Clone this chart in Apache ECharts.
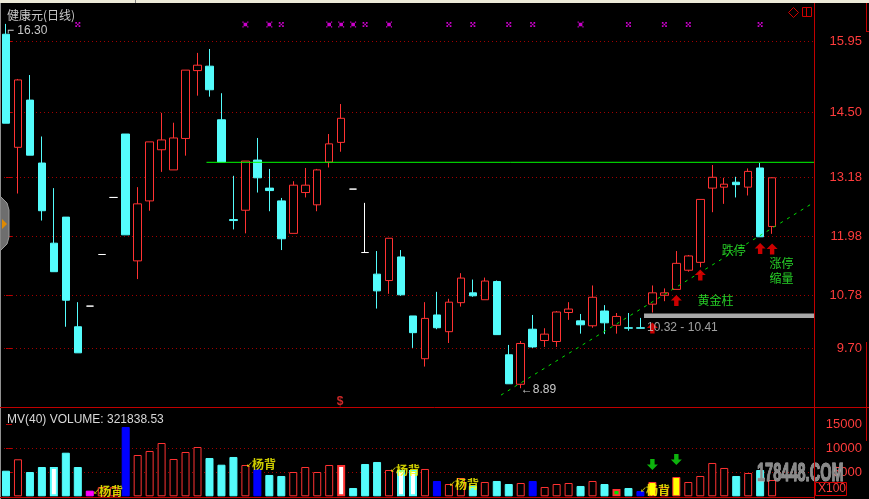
<!DOCTYPE html>
<html><head><meta charset="utf-8">
<script src="https://cdn.jsdelivr.net/npm/echarts@6/dist/echarts.min.js"></script>
<style>html,body{margin:0;padding:0;background:#000;overflow:hidden}#c{width:869px;height:499px}</style>
</head><body><div id="c"></div>
<script>
// ---------- data ----------
const slots = Array.from({length: 68}, (_, i) => String(i + 1)); // 65 trading days + 3 empty slots
const opens  = [16.09,13.79,14.75,13.47,11.84,12.37,10.14,10.56,11.61,12.77,
                14.06,11.48,12.70,13.74,13.33,13.97,15.35,15.44,14.35,12.32,
                12.51,13.53,12.96,12.70,12.04,12.87,12.62,13.49,13.89,12.94,
                11.65,11.21,11.08,11.56,10.36,9.49,10.38,10.04,10.63,10.83,
                10.69,11.06,9.57,8.97,10.09,9.86,9.84,10.43,10.26,10.16,
                10.46,10.17,10.12,10.12,10.60,10.78,10.90,11.29,11.45,12.96,
                12.98,13.08,12.98,13.37,12.18];
const closes = [14.28,15.16,13.63,12.50,11.26,10.68,9.61,10.56,11.61,12.77,
                12.01,12.64,13.90,13.94,13.98,15.36,15.46,14.96,13.49,12.30,
                13.51,13.17,12.91,11.93,13.02,13.02,13.33,13.86,14.38,12.94,
                11.65,10.87,11.94,10.79,10.02,10.31,10.12,10.64,11.13,10.77,
                11.07,9.98,8.98,9.80,9.73,9.99,10.44,10.50,10.18,10.74,
                10.22,10.35,10.11,10.11,10.83,10.83,11.43,11.58,12.73,13.18,
                13.04,13.03,13.30,11.97,13.17];
const lows   = [14.28,12.85,13.63,12.30,11.26,10.14,9.61,10.56,11.61,12.77,
                12.01,11.11,12.50,13.29,13.33,13.62,14.84,14.82,13.49,12.12,
                12.04,12.87,12.49,11.70,12.04,12.77,12.49,13.38,13.70,12.94,
                11.65,10.51,10.81,10.77,9.71,9.33,10.09,9.81,10.55,10.75,
                10.69,9.98,8.98,8.89,9.71,9.73,9.73,10.28,10.00,10.12,
                9.99,10.00,10.06,10.10,10.43,10.66,10.90,11.26,11.35,12.47,
                12.64,12.77,12.81,11.97,12.03];
const highs  = [16.30,15.18,15.26,14.01,12.96,12.37,10.64,10.56,11.61,12.77,
                14.06,12.98,13.90,14.49,14.29,15.36,15.71,15.79,14.89,13.21,
                13.51,13.98,13.35,12.76,13.10,13.37,13.35,14.06,14.67,12.94,
                12.66,11.68,11.94,11.70,10.36,10.64,10.85,10.71,11.23,11.10,
                11.14,11.08,9.77,9.85,10.38,10.11,10.46,10.64,10.40,10.98,
                10.58,10.42,10.42,10.32,10.98,10.92,11.68,11.60,12.73,13.43,
                13.17,13.19,13.36,13.47,13.18];
// volume, unit x100 shares
const volumes = [5330,7710,5060,6100,6100,9080,6100,1170,1900,1900,
                 14440,8600,9440,11100,7770,9230,10270,7980,6580,8190,
                 6520,5625,4440,4230,5060,6100,5060,6520,6520,1730,
                 6730,7150,5480,5480,5480,5690,3190,2560,3810,2200,
                 2980,3190,2560,2770,3190,1940,2560,2770,2150,3190,
                 2560,1520,1730,1100,2980,1940,4020,2980,4230,6940,
                 5900,4230,4850,5480,3400];
// volume bar class: u=up, d=down, b=blue signal, dw/uw=white core, m=magenta, ug=green core, uy=yellow core
const volClass = ['d','u','d','d','dw','d','d','m','u','u',
                  'b','u','u','u','u','u','u','d','d','d',
                  'u','b','d','d','u','u','u','u','uw','d',
                  'd','d','u','dw','dw','u','b','u','u','d',
                  'u','d','d','u','b','u','u','u','d','u',
                  'd','ug','d','b','uy','u','uy','u','u','u',
                  'u','d','u','d','u'];
const priceTicks = [15.95, 14.50, 13.18, 11.98, 10.78, 9.70];
const volTicks = [5000, 10000, 15000];
const volGrid = [5000, 10000];
const highMark = {idx: 0, price: 16.30, text: '16.30'};
const lowMark = {idx: 43, price: 8.89, text: '8.89'};
const resistance = {from: 16.75, to: 67.5, price: 13.485};
const trendFrom = [41.35, 8.75], trendTo = [67.5, 12.67];
const goldBand = {from: 53.3, to: 67.5, low: 10.32, high: 10.41};
const signalLevel = 16.287;
const bigX = [20, 22, 27, 28, 29, 32, 48];
const smallX = [6, 23, 30, 37, 39, 42, 44, 52, 55, 57, 63];
const upArrowIdx = [54, 56, 58, 63, 64];
const upArrowPrice = [10.115, 10.674, 11.193, 11.732, 11.722];
const downArrowIdx = [54, 56];
const downArrowVol = [6625, 7670];
const notes = ['跌停', '涨停', '缩量', '黄金柱', '10.32 - 10.41', '$'];
const noteX = [60.8, 64.79, 64.79, 59.27, 53.55, 27.9];
const noteY = [11.70, 11.42, 11.13, 10.685, 10.12, 8.62];
const volNotes = ['杨背', '杨背', '杨背', '杨背', '杨背'];
const volNoteX = [7.27, 20.05, 32.08, 37.01, 52.97];
const volNoteY = [1000, 6625, 5480, 2560, 1310];

// ---------- styling ----------
const RED = '#ff3232', CYAN = '#54fcfc', AXIS = '#c00000', DOT = '#a00000';
const NUMF = 'Liberation Sans', CJK = 'Noto Sans CJK SC';
const UP_ARROW = 'path://M5,0L10,5L7,5L7,10L3,10L3,5L0,5Z';
const DOWN_ARROW = 'path://M3,0L7,0L7,5L10,5L5,10L0,5L3,5Z';
const BIG_X = 'path://M0,0h1v1h-1zM4,0h1v1h-1zM1,1h3v3h-3zM0,4h1v1h-1zM4,4h1v1h-1z';
const SMALL_X = 'path://M0,0h1v1h-1zM2,0h1v1h-1zM1,1h1v1h-1zM0,2h1v1h-1zM2,2h1v1h-1z';

const candleData = opens.map((o, i) => {
  const item = {value: [o, closes[i], lows[i], highs[i]]};
  if (o === closes[i]) item.itemStyle = {color: '#fff', color0: '#fff', borderColor: '#fff', borderColor0: '#fff', borderColorDoji: '#fff'};
  return item;
});
const volStyle = {
  u: {color: '#000', borderColor: RED, borderWidth: 1},
  d: {color: CYAN, borderColor: CYAN, borderWidth: 1},
  b: {color: '#0000ff', borderColor: '#0000ff', borderWidth: 1},
  dw: {color: '#fff', borderColor: CYAN, borderWidth: 2},
  uw: {color: '#fff', borderColor: RED, borderWidth: 2},
  m: {color: '#ff00ff', borderColor: '#ff00ff', borderWidth: 1},
  ug: {color: '#00e000', borderColor: RED, borderWidth: 2},
  uy: {color: '#ffff00', borderColor: RED, borderWidth: 1}
};
const volData = volumes.map((v, i) => ({value: v, itemStyle: volStyle[volClass[i]]}));
const noteColor = t => t === '$' ? RED : (t.indexOf('10.') === 0 ? '#c8c8c8' : '#30ff30');

const option = {
  backgroundColor: '#000',
  animation: false,
  title: [
    {text: '健康元(日线)', left: 2, top: 4, textStyle: {color: '#c8c8c8', fontSize: 12, fontWeight: 'normal', fontFamily: CJK}},
    {text: 'MV(40) VOLUME: 321838.53', left: 2, top: 409, textStyle: {color: '#d8d8d8', fontSize: 12, fontWeight: 'normal', fontFamily: NUMF}}
  ],
  grid: [
    {left: 0, top: 3, width: 814, height: 404},
    {left: 0, top: 407, width: 814, height: 89.3}
  ],
  xAxis: [
    {type: 'category', gridIndex: 0, data: slots, show: false, boundaryGap: true},
    {type: 'category', gridIndex: 1, data: slots, show: false, boundaryGap: true},
    {type: 'value', gridIndex: 0, min: -0.5, max: 67.5, show: false},
    {type: 'value', gridIndex: 1, min: -0.5, max: 67.5, show: false}
  ],
  yAxis: [
    {type: 'value', gridIndex: 0, position: 'right', min: 8.508, max: 16.725,
     axisLine: {show: false}, splitLine: {show: false},
     axisTick: {show: true, customValues: priceTicks, length: 6, lineStyle: {color: AXIS}},
     axisLabel: {customValues: priceTicks, color: '#ff3c3c', fontSize: 13, fontFamily: NUMF, align: 'right', margin: 48,
                 formatter: v => v.toFixed(2)}},
    {type: 'value', gridIndex: 1, position: 'right', min: 0, max: 18600,
     axisLine: {show: false}, splitLine: {show: false},
     axisTick: {show: true, customValues: volTicks, length: 6, lineStyle: {color: AXIS}},
     axisLabel: {customValues: volTicks, color: '#ff3c3c', fontSize: 13, fontFamily: NUMF, align: 'right', margin: 48,
                 formatter: v => String(Math.round(v))}}
  ],
  graphic: [
    {type: 'rect', shape: {x: 0, y: 0, width: 869, height: 3}, style: {fill: '#ece9d8'}, z: 100},
    {type: 'line', shape: {x1: 135.5, y1: 0, x2: 135.5, y2: 3}, style: {stroke: '#808080', lineWidth: 1}, z: 101},
    {type: 'line', shape: {x1: 0.5, y1: 3, x2: 0.5, y2: 499}, style: {stroke: '#909090', lineWidth: 1}, z: 100},
    {type: 'line', shape: {x1: 814.5, y1: 3, x2: 814.5, y2: 499}, style: {stroke: AXIS, lineWidth: 1}, z: 100},
    {type: 'line', shape: {x1: 0, y1: 407.5, x2: 869, y2: 407.5}, style: {stroke: AXIS, lineWidth: 1}, z: 100},
    {type: 'line', shape: {x1: 0, y1: 497.5, x2: 814, y2: 497.5}, style: {stroke: AXIS, lineWidth: 1}, z: 100},
    {type: 'line', shape: {x1: 866.5, y1: 3, x2: 866.5, y2: 31}, style: {stroke: AXIS, lineWidth: 1}, z: 100},
    {type: 'line', shape: {x1: 866, y1: 31.5, x2: 869, y2: 31.5}, style: {stroke: AXIS, lineWidth: 1}, z: 100},
    {type: 'line', shape: {x1: 866.5, y1: 342, x2: 866.5, y2: 441}, style: {stroke: AXIS, lineWidth: 1}, z: 100},
    // top-right icons
    {type: 'polygon', shape: {points: [[793.5, 7.5], [798.5, 12.5], [793.5, 17.5], [788.5, 12.5]]}, style: {fill: 'none', stroke: '#d00000', lineWidth: 1}, z: 100},
    {type: 'rect', shape: {x: 802.5, y: 7.5, width: 9, height: 9}, style: {fill: 'none', stroke: '#d00000', lineWidth: 1}, z: 100},
    {type: 'line', shape: {x1: 806.5, y1: 7.5, x2: 806.5, y2: 16.5}, style: {stroke: '#d00000', lineWidth: 1}, z: 100},
    // side button
    {type: 'polygon', shape: {points: [[0, 196], [7, 203], [9, 210], [9, 237], [7, 244], [0, 251]]}, style: {fill: '#6e6e6e', stroke: '#9a9a9a', lineWidth: 1}, z: 100},
    {type: 'polygon', shape: {points: [[2, 219], [7, 224], [2, 229]]}, style: {fill: '#e08a00'}, z: 101},
    // x100 box
    {type: 'rect', shape: {x: 815.5, y: 482.5, width: 31, height: 13}, style: {fill: 'none', stroke: '#d00000', lineWidth: 1}, z: 100},
    {type: 'text', x: 818, y: 483, style: {text: 'X100', fill: '#ff3c3c', font: '12px Liberation Sans'}, z: 101},
    // watermark
    {type: 'text', x: 757, y: 461, scaleX: 0.56, style: {text: '178448.COM', fill: '#8a8a8a', stroke: '#b8b8b8', lineWidth: 1, font: 'bold 26px Liberation Sans'}, z: 90}
  ],
  series: [
    {
      type: 'candlestick', xAxisIndex: 0, yAxisIndex: 0, data: candleData, barWidth: 8, z: 3,
      itemStyle: {color: '#000', color0: CYAN, borderColor: RED, borderColor0: CYAN, borderColorDoji: '#fff', borderWidth: 1},
      markLine: {
        silent: true, symbol: 'none', z: 1, label: {show: false},
        lineStyle: {color: DOT, type: [1, 3], width: 1},
        data: priceTicks.map(v => ({yAxis: v}))
      },
      markPoint: {
        symbol: 'circle', symbolSize: 0, z: 6,
        data: [
          {coord: [highMark.idx, highMark.price], label: {show: true, formatter: '⌐ ' + highMark.text, position: 'inside', align: 'left', offset: [1, 7], color: '#c8c8c8', fontSize: 12, fontFamily: NUMF}},
          {coord: [lowMark.idx, lowMark.price], label: {show: true, formatter: '←' + lowMark.text, position: 'inside', align: 'left', offset: [0, 1], color: '#c8c8c8', fontSize: 12, fontFamily: NUMF}}
        ]
      }
    },
    {type: 'line', xAxisIndex: 2, yAxisIndex: 0, data: [[resistance.from, resistance.price], [resistance.to, resistance.price]],
     symbol: 'none', lineStyle: {color: '#00ff00', width: 1}, z: 4},
    {type: 'line', xAxisIndex: 2, yAxisIndex: 0, data: [trendFrom, trendTo],
     symbol: 'none', lineStyle: {color: '#00e000', width: 1, type: [3, 5]}, z: 4},
    {type: 'line', xAxisIndex: 2, yAxisIndex: 0, data: [], symbol: 'none', z: 4,
     markArea: {silent: true, itemStyle: {color: '#a8a8a8'},
       data: [[{coord: [goldBand.from, goldBand.high]}, {coord: [goldBand.to, goldBand.low]}]]}},
    {type: 'scatter', xAxisIndex: 0, yAxisIndex: 0, data: bigX.map(i => [i, signalLevel]),
     symbol: BIG_X, symbolSize: [6, 6], itemStyle: {color: '#ff00ff'}, z: 5},
    {type: 'scatter', xAxisIndex: 0, yAxisIndex: 0, data: smallX.map(i => [i, signalLevel]),
     symbol: SMALL_X, symbolSize: [5, 5], itemStyle: {color: '#ff00ff'}, z: 5},
    {type: 'scatter', xAxisIndex: 0, yAxisIndex: 0, data: upArrowIdx.map((i, k) => [i, upArrowPrice[k]]),
     symbol: UP_ARROW, symbolSize: [11, 11], itemStyle: {color: '#ff0000'}, z: 6},
    {type: 'scatter', xAxisIndex: 2, yAxisIndex: 0, data: notes.map((t, k) => ({value: [noteX[k], noteY[k]],
       label: {show: true, formatter: t, position: 'inside', align: t.indexOf('10.') === 0 ? 'left' : 'center',
               color: noteColor(t), fontSize: 12, fontWeight: t === '$' ? 'bold' : 'normal',
               fontFamily: /[0-9$]/.test(t) ? NUMF : CJK}})),
     symbolSize: 0, z: 7},
    {
      type: 'bar', xAxisIndex: 1, yAxisIndex: 1, data: volData, barWidth: 8, z: 3,
      markLine: {silent: true, symbol: 'none', z: 1, label: {show: false},
        lineStyle: {color: DOT, type: [1, 3], width: 1}, data: volGrid.map(v => ({yAxis: v}))}
    },
    {type: 'scatter', xAxisIndex: 1, yAxisIndex: 1, data: downArrowIdx.map((i, k) => [i, downArrowVol[k]]),
     symbol: DOWN_ARROW, symbolSize: [11, 11], itemStyle: {color: '#10e010'}, z: 6},
    {type: 'scatter', xAxisIndex: 3, yAxisIndex: 1, data: volNotes.map((t, k) => ({value: [volNoteX[k], volNoteY[k]],
       label: {show: true, position: 'inside', align: 'left', formatter: '{a|↙}{t|' + t + '}',
         rich: {a: {color: '#ffff00', fontSize: 8, fontFamily: 'DejaVu Sans', width: 6}, t: {color: '#ffff00', fontSize: 12, fontFamily: CJK, fontWeight: 'bold'}}}})),
     symbolSize: 0, z: 7}
  ]
};
const chart = echarts.init(document.getElementById('c'), null, {renderer: 'canvas'});
chart.setOption(option);
</script>
</body></html>
